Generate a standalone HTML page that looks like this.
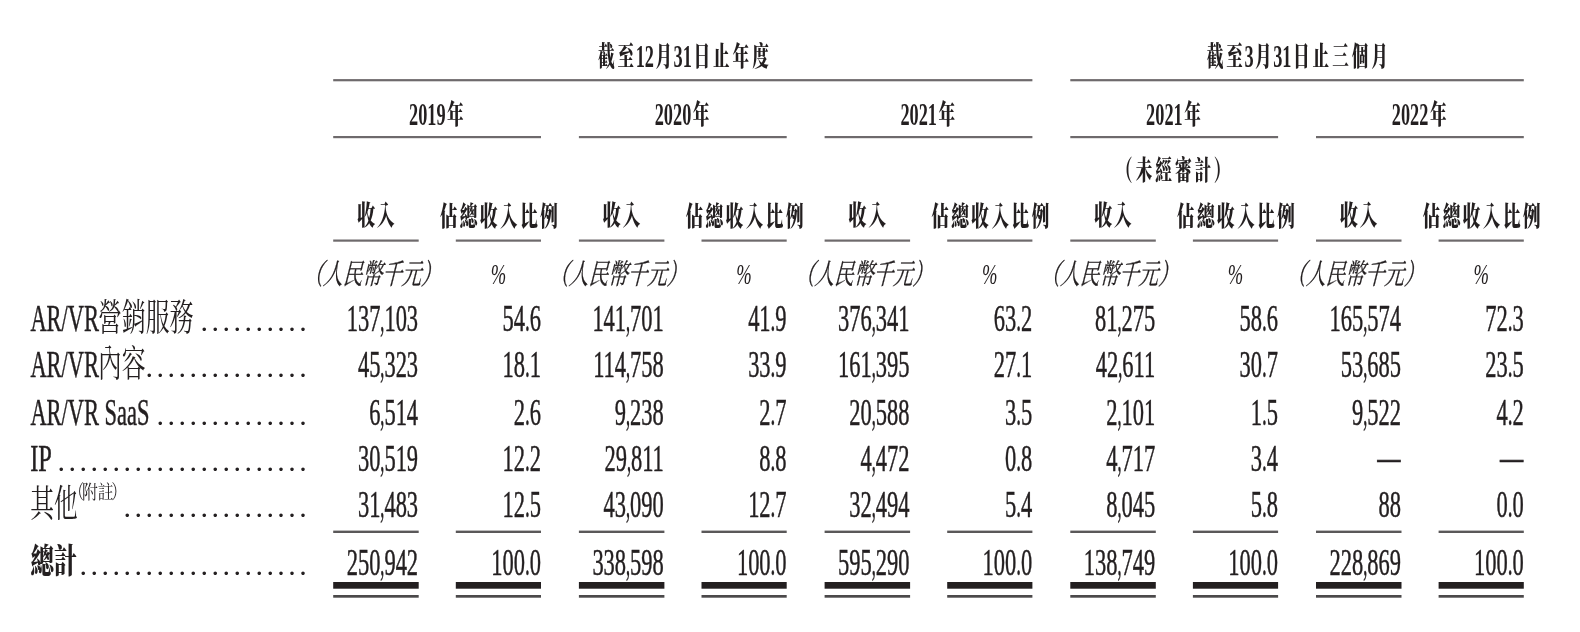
<!DOCTYPE html>
<html><head><meta charset="utf-8"><title>收入明細</title>
<style>html,body{margin:0;padding:0;background:#fff;}svg{display:block;filter:blur(0.55px)}.d text{stroke:#231f20;stroke-width:0.5px}.u text{stroke:#231f20;stroke-width:0.3px}</style></head>
<body><svg width="1580" height="632" viewBox="0 0 1580 632" fill="#231f20">
<rect x="0" y="0" width="1580" height="632" fill="#fff"/>
<text x="598.00" y="66.30" font-family='"Liberation Serif", "Noto Serif CJK TC", "Noto Serif CJK SC", serif' font-size="27.8" textLength="16.60" lengthAdjust="spacingAndGlyphs" font-weight="900">截</text><text x="617.60" y="66.30" font-family='"Liberation Serif", "Noto Serif CJK TC", "Noto Serif CJK SC", serif' font-size="27.8" textLength="16.60" lengthAdjust="spacingAndGlyphs" font-weight="900">至</text><text x="635.70" y="66.80" font-family='"Liberation Serif", serif' font-size="30.5" textLength="18.30" lengthAdjust="spacingAndGlyphs" font-weight="bold">12</text><text x="655.50" y="66.30" font-family='"Liberation Serif", "Noto Serif CJK TC", "Noto Serif CJK SC", serif' font-size="27.8" textLength="16.60" lengthAdjust="spacingAndGlyphs" font-weight="900">月</text><text x="673.60" y="66.80" font-family='"Liberation Serif", serif' font-size="30.5" textLength="18.30" lengthAdjust="spacingAndGlyphs" font-weight="bold">31</text><text x="693.40" y="66.30" font-family='"Liberation Serif", "Noto Serif CJK TC", "Noto Serif CJK SC", serif' font-size="27.8" textLength="16.60" lengthAdjust="spacingAndGlyphs" font-weight="900">日</text><text x="713.00" y="66.30" font-family='"Liberation Serif", "Noto Serif CJK TC", "Noto Serif CJK SC", serif' font-size="27.8" textLength="16.60" lengthAdjust="spacingAndGlyphs" font-weight="900">止</text><text x="732.60" y="66.30" font-family='"Liberation Serif", "Noto Serif CJK TC", "Noto Serif CJK SC", serif' font-size="27.8" textLength="16.60" lengthAdjust="spacingAndGlyphs" font-weight="900">年</text><text x="752.20" y="66.30" font-family='"Liberation Serif", "Noto Serif CJK TC", "Noto Serif CJK SC", serif' font-size="27.8" textLength="16.60" lengthAdjust="spacingAndGlyphs" font-weight="900">度</text>
<text x="1206.70" y="66.30" font-family='"Liberation Serif", "Noto Serif CJK TC", "Noto Serif CJK SC", serif' font-size="27.8" textLength="16.60" lengthAdjust="spacingAndGlyphs" font-weight="900">截</text><text x="1226.30" y="66.30" font-family='"Liberation Serif", "Noto Serif CJK TC", "Noto Serif CJK SC", serif' font-size="27.8" textLength="16.60" lengthAdjust="spacingAndGlyphs" font-weight="900">至</text><text x="1244.40" y="66.80" font-family='"Liberation Serif", serif' font-size="30.5" textLength="9.15" lengthAdjust="spacingAndGlyphs" font-weight="bold">3</text><text x="1255.05" y="66.30" font-family='"Liberation Serif", "Noto Serif CJK TC", "Noto Serif CJK SC", serif' font-size="27.8" textLength="16.60" lengthAdjust="spacingAndGlyphs" font-weight="900">月</text><text x="1273.15" y="66.80" font-family='"Liberation Serif", serif' font-size="30.5" textLength="18.30" lengthAdjust="spacingAndGlyphs" font-weight="bold">31</text><text x="1292.95" y="66.30" font-family='"Liberation Serif", "Noto Serif CJK TC", "Noto Serif CJK SC", serif' font-size="27.8" textLength="16.60" lengthAdjust="spacingAndGlyphs" font-weight="900">日</text><text x="1312.55" y="66.30" font-family='"Liberation Serif", "Noto Serif CJK TC", "Noto Serif CJK SC", serif' font-size="27.8" textLength="16.60" lengthAdjust="spacingAndGlyphs" font-weight="900">止</text><text x="1332.15" y="66.30" font-family='"Liberation Serif", "Noto Serif CJK TC", "Noto Serif CJK SC", serif' font-size="27.8" textLength="16.60" lengthAdjust="spacingAndGlyphs" font-weight="900">三</text><text x="1351.75" y="66.30" font-family='"Liberation Serif", "Noto Serif CJK TC", "Noto Serif CJK SC", serif' font-size="27.8" textLength="16.60" lengthAdjust="spacingAndGlyphs" font-weight="900">個</text><text x="1371.35" y="66.30" font-family='"Liberation Serif", "Noto Serif CJK TC", "Noto Serif CJK SC", serif' font-size="27.8" textLength="16.60" lengthAdjust="spacingAndGlyphs" font-weight="900">月</text>
<rect x="333.20" y="79.10" width="699.20" height="2.20" fill="#6e6a6c"/>
<rect x="1070.30" y="79.10" width="453.50" height="2.20" fill="#6e6a6c"/>
<text x="409.00" y="124.90" font-family='"Liberation Serif", serif' font-size="30.5" textLength="36.60" lengthAdjust="spacingAndGlyphs" font-weight="bold">2019</text><text x="447.10" y="124.40" font-family='"Liberation Serif", "Noto Serif CJK TC", "Noto Serif CJK SC", serif' font-size="27.8" textLength="16.60" lengthAdjust="spacingAndGlyphs" font-weight="900">年</text>
<rect x="333.20" y="136.00" width="207.80" height="2.20" fill="#6e6a6c"/>
<text x="654.70" y="124.90" font-family='"Liberation Serif", serif' font-size="30.5" textLength="36.60" lengthAdjust="spacingAndGlyphs" font-weight="bold">2020</text><text x="692.80" y="124.40" font-family='"Liberation Serif", "Noto Serif CJK TC", "Noto Serif CJK SC", serif' font-size="27.8" textLength="16.60" lengthAdjust="spacingAndGlyphs" font-weight="900">年</text>
<rect x="578.90" y="136.00" width="207.80" height="2.20" fill="#6e6a6c"/>
<text x="900.40" y="124.90" font-family='"Liberation Serif", serif' font-size="30.5" textLength="36.60" lengthAdjust="spacingAndGlyphs" font-weight="bold">2021</text><text x="938.50" y="124.40" font-family='"Liberation Serif", "Noto Serif CJK TC", "Noto Serif CJK SC", serif' font-size="27.8" textLength="16.60" lengthAdjust="spacingAndGlyphs" font-weight="900">年</text>
<rect x="824.60" y="136.00" width="207.80" height="2.20" fill="#6e6a6c"/>
<text x="1146.10" y="124.90" font-family='"Liberation Serif", serif' font-size="30.5" textLength="36.60" lengthAdjust="spacingAndGlyphs" font-weight="bold">2021</text><text x="1184.20" y="124.40" font-family='"Liberation Serif", "Noto Serif CJK TC", "Noto Serif CJK SC", serif' font-size="27.8" textLength="16.60" lengthAdjust="spacingAndGlyphs" font-weight="900">年</text>
<rect x="1070.30" y="136.00" width="207.80" height="2.20" fill="#6e6a6c"/>
<text x="1391.80" y="124.90" font-family='"Liberation Serif", serif' font-size="30.5" textLength="36.60" lengthAdjust="spacingAndGlyphs" font-weight="bold">2022</text><text x="1429.90" y="124.40" font-family='"Liberation Serif", "Noto Serif CJK TC", "Noto Serif CJK SC", serif' font-size="27.8" textLength="16.60" lengthAdjust="spacingAndGlyphs" font-weight="900">年</text>
<rect x="1316.00" y="136.00" width="207.80" height="2.20" fill="#6e6a6c"/>
<text x="1115.95" y="179.80" font-family='"Liberation Serif", "Noto Serif CJK TC", "Noto Serif CJK SC", serif' font-size="27.8" textLength="16.60" lengthAdjust="spacingAndGlyphs" font-weight="900">（</text><text x="1135.75" y="179.80" font-family='"Liberation Serif", "Noto Serif CJK TC", "Noto Serif CJK SC", serif' font-size="27.8" textLength="16.60" lengthAdjust="spacingAndGlyphs" font-weight="900">未</text><text x="1155.35" y="179.80" font-family='"Liberation Serif", "Noto Serif CJK TC", "Noto Serif CJK SC", serif' font-size="27.8" textLength="16.60" lengthAdjust="spacingAndGlyphs" font-weight="900">經</text><text x="1174.95" y="179.80" font-family='"Liberation Serif", "Noto Serif CJK TC", "Noto Serif CJK SC", serif' font-size="27.8" textLength="16.60" lengthAdjust="spacingAndGlyphs" font-weight="900">審</text><text x="1194.55" y="179.80" font-family='"Liberation Serif", "Noto Serif CJK TC", "Noto Serif CJK SC", serif' font-size="27.8" textLength="16.60" lengthAdjust="spacingAndGlyphs" font-weight="900">計</text><text x="1213.85" y="179.80" font-family='"Liberation Serif", "Noto Serif CJK TC", "Noto Serif CJK SC", serif' font-size="27.8" textLength="16.60" lengthAdjust="spacingAndGlyphs" font-weight="900">）</text>
<text x="357.15" y="225.00" font-family='"Liberation Serif", "Noto Serif CJK TC", "Noto Serif CJK SC", serif' font-size="27.8" textLength="18.00" lengthAdjust="spacingAndGlyphs" font-weight="900">收</text><text x="376.75" y="225.00" font-family='"Liberation Serif", "Noto Serif CJK TC", "Noto Serif CJK SC", serif' font-size="27.8" textLength="18.00" lengthAdjust="spacingAndGlyphs" font-weight="900">入</text>
<text x="439.75" y="225.80" font-family='"Liberation Serif", "Noto Serif CJK TC", "Noto Serif CJK SC", serif' font-size="27.8" textLength="17.60" lengthAdjust="spacingAndGlyphs" font-weight="900">佔</text><text x="459.85" y="225.80" font-family='"Liberation Serif", "Noto Serif CJK TC", "Noto Serif CJK SC", serif' font-size="27.8" textLength="17.60" lengthAdjust="spacingAndGlyphs" font-weight="900">總</text><text x="479.95" y="225.80" font-family='"Liberation Serif", "Noto Serif CJK TC", "Noto Serif CJK SC", serif' font-size="27.8" textLength="17.60" lengthAdjust="spacingAndGlyphs" font-weight="900">收</text><text x="500.05" y="225.80" font-family='"Liberation Serif", "Noto Serif CJK TC", "Noto Serif CJK SC", serif' font-size="27.8" textLength="17.60" lengthAdjust="spacingAndGlyphs" font-weight="900">入</text><text x="520.15" y="225.80" font-family='"Liberation Serif", "Noto Serif CJK TC", "Noto Serif CJK SC", serif' font-size="27.8" textLength="17.60" lengthAdjust="spacingAndGlyphs" font-weight="900">比</text><text x="540.25" y="225.80" font-family='"Liberation Serif", "Noto Serif CJK TC", "Noto Serif CJK SC", serif' font-size="27.8" textLength="17.60" lengthAdjust="spacingAndGlyphs" font-weight="900">例</text>
<rect x="333.20" y="239.50" width="85.50" height="2.20" fill="#6e6a6c"/>
<rect x="455.80" y="239.50" width="85.20" height="2.20" fill="#6e6a6c"/>
<g transform="translate(0 284.30) skewX(-14.036) translate(0 -284.30)"><g class="u"><text x="303.25" y="284.30" font-family='"Liberation Serif", "Noto Serif CJK TC", "Noto Serif CJK SC", serif' font-size="28.5" textLength="19.60" lengthAdjust="spacingAndGlyphs">（</text><text x="322.85" y="284.30" font-family='"Liberation Serif", "Noto Serif CJK TC", "Noto Serif CJK SC", serif' font-size="28.5" textLength="98.00" lengthAdjust="spacingAndGlyphs">人民幣千元</text><text x="420.85" y="284.30" font-family='"Liberation Serif", "Noto Serif CJK TC", "Noto Serif CJK SC", serif' font-size="28.5" textLength="19.60" lengthAdjust="spacingAndGlyphs">）</text></g></g>
<text x="490.65" y="284.00" font-family='"Liberation Serif", serif' font-size="30" textLength="15.49" lengthAdjust="spacingAndGlyphs" font-style="italic">%</text>
<text x="602.85" y="225.00" font-family='"Liberation Serif", "Noto Serif CJK TC", "Noto Serif CJK SC", serif' font-size="27.8" textLength="18.00" lengthAdjust="spacingAndGlyphs" font-weight="900">收</text><text x="622.45" y="225.00" font-family='"Liberation Serif", "Noto Serif CJK TC", "Noto Serif CJK SC", serif' font-size="27.8" textLength="18.00" lengthAdjust="spacingAndGlyphs" font-weight="900">入</text>
<text x="685.45" y="225.80" font-family='"Liberation Serif", "Noto Serif CJK TC", "Noto Serif CJK SC", serif' font-size="27.8" textLength="17.60" lengthAdjust="spacingAndGlyphs" font-weight="900">佔</text><text x="705.55" y="225.80" font-family='"Liberation Serif", "Noto Serif CJK TC", "Noto Serif CJK SC", serif' font-size="27.8" textLength="17.60" lengthAdjust="spacingAndGlyphs" font-weight="900">總</text><text x="725.65" y="225.80" font-family='"Liberation Serif", "Noto Serif CJK TC", "Noto Serif CJK SC", serif' font-size="27.8" textLength="17.60" lengthAdjust="spacingAndGlyphs" font-weight="900">收</text><text x="745.75" y="225.80" font-family='"Liberation Serif", "Noto Serif CJK TC", "Noto Serif CJK SC", serif' font-size="27.8" textLength="17.60" lengthAdjust="spacingAndGlyphs" font-weight="900">入</text><text x="765.85" y="225.80" font-family='"Liberation Serif", "Noto Serif CJK TC", "Noto Serif CJK SC", serif' font-size="27.8" textLength="17.60" lengthAdjust="spacingAndGlyphs" font-weight="900">比</text><text x="785.95" y="225.80" font-family='"Liberation Serif", "Noto Serif CJK TC", "Noto Serif CJK SC", serif' font-size="27.8" textLength="17.60" lengthAdjust="spacingAndGlyphs" font-weight="900">例</text>
<rect x="578.90" y="239.50" width="85.50" height="2.20" fill="#6e6a6c"/>
<rect x="701.50" y="239.50" width="85.20" height="2.20" fill="#6e6a6c"/>
<g transform="translate(0 284.30) skewX(-14.036) translate(0 -284.30)"><g class="u"><text x="548.95" y="284.30" font-family='"Liberation Serif", "Noto Serif CJK TC", "Noto Serif CJK SC", serif' font-size="28.5" textLength="19.60" lengthAdjust="spacingAndGlyphs">（</text><text x="568.55" y="284.30" font-family='"Liberation Serif", "Noto Serif CJK TC", "Noto Serif CJK SC", serif' font-size="28.5" textLength="98.00" lengthAdjust="spacingAndGlyphs">人民幣千元</text><text x="666.55" y="284.30" font-family='"Liberation Serif", "Noto Serif CJK TC", "Noto Serif CJK SC", serif' font-size="28.5" textLength="19.60" lengthAdjust="spacingAndGlyphs">）</text></g></g>
<text x="736.35" y="284.00" font-family='"Liberation Serif", serif' font-size="30" textLength="15.49" lengthAdjust="spacingAndGlyphs" font-style="italic">%</text>
<text x="848.55" y="225.00" font-family='"Liberation Serif", "Noto Serif CJK TC", "Noto Serif CJK SC", serif' font-size="27.8" textLength="18.00" lengthAdjust="spacingAndGlyphs" font-weight="900">收</text><text x="868.15" y="225.00" font-family='"Liberation Serif", "Noto Serif CJK TC", "Noto Serif CJK SC", serif' font-size="27.8" textLength="18.00" lengthAdjust="spacingAndGlyphs" font-weight="900">入</text>
<text x="931.15" y="225.80" font-family='"Liberation Serif", "Noto Serif CJK TC", "Noto Serif CJK SC", serif' font-size="27.8" textLength="17.60" lengthAdjust="spacingAndGlyphs" font-weight="900">佔</text><text x="951.25" y="225.80" font-family='"Liberation Serif", "Noto Serif CJK TC", "Noto Serif CJK SC", serif' font-size="27.8" textLength="17.60" lengthAdjust="spacingAndGlyphs" font-weight="900">總</text><text x="971.35" y="225.80" font-family='"Liberation Serif", "Noto Serif CJK TC", "Noto Serif CJK SC", serif' font-size="27.8" textLength="17.60" lengthAdjust="spacingAndGlyphs" font-weight="900">收</text><text x="991.45" y="225.80" font-family='"Liberation Serif", "Noto Serif CJK TC", "Noto Serif CJK SC", serif' font-size="27.8" textLength="17.60" lengthAdjust="spacingAndGlyphs" font-weight="900">入</text><text x="1011.55" y="225.80" font-family='"Liberation Serif", "Noto Serif CJK TC", "Noto Serif CJK SC", serif' font-size="27.8" textLength="17.60" lengthAdjust="spacingAndGlyphs" font-weight="900">比</text><text x="1031.65" y="225.80" font-family='"Liberation Serif", "Noto Serif CJK TC", "Noto Serif CJK SC", serif' font-size="27.8" textLength="17.60" lengthAdjust="spacingAndGlyphs" font-weight="900">例</text>
<rect x="824.60" y="239.50" width="85.50" height="2.20" fill="#6e6a6c"/>
<rect x="947.20" y="239.50" width="85.20" height="2.20" fill="#6e6a6c"/>
<g transform="translate(0 284.30) skewX(-14.036) translate(0 -284.30)"><g class="u"><text x="794.65" y="284.30" font-family='"Liberation Serif", "Noto Serif CJK TC", "Noto Serif CJK SC", serif' font-size="28.5" textLength="19.60" lengthAdjust="spacingAndGlyphs">（</text><text x="814.25" y="284.30" font-family='"Liberation Serif", "Noto Serif CJK TC", "Noto Serif CJK SC", serif' font-size="28.5" textLength="98.00" lengthAdjust="spacingAndGlyphs">人民幣千元</text><text x="912.25" y="284.30" font-family='"Liberation Serif", "Noto Serif CJK TC", "Noto Serif CJK SC", serif' font-size="28.5" textLength="19.60" lengthAdjust="spacingAndGlyphs">）</text></g></g>
<text x="982.05" y="284.00" font-family='"Liberation Serif", serif' font-size="30" textLength="15.49" lengthAdjust="spacingAndGlyphs" font-style="italic">%</text>
<text x="1094.25" y="225.00" font-family='"Liberation Serif", "Noto Serif CJK TC", "Noto Serif CJK SC", serif' font-size="27.8" textLength="18.00" lengthAdjust="spacingAndGlyphs" font-weight="900">收</text><text x="1113.85" y="225.00" font-family='"Liberation Serif", "Noto Serif CJK TC", "Noto Serif CJK SC", serif' font-size="27.8" textLength="18.00" lengthAdjust="spacingAndGlyphs" font-weight="900">入</text>
<text x="1176.85" y="225.80" font-family='"Liberation Serif", "Noto Serif CJK TC", "Noto Serif CJK SC", serif' font-size="27.8" textLength="17.60" lengthAdjust="spacingAndGlyphs" font-weight="900">佔</text><text x="1196.95" y="225.80" font-family='"Liberation Serif", "Noto Serif CJK TC", "Noto Serif CJK SC", serif' font-size="27.8" textLength="17.60" lengthAdjust="spacingAndGlyphs" font-weight="900">總</text><text x="1217.05" y="225.80" font-family='"Liberation Serif", "Noto Serif CJK TC", "Noto Serif CJK SC", serif' font-size="27.8" textLength="17.60" lengthAdjust="spacingAndGlyphs" font-weight="900">收</text><text x="1237.15" y="225.80" font-family='"Liberation Serif", "Noto Serif CJK TC", "Noto Serif CJK SC", serif' font-size="27.8" textLength="17.60" lengthAdjust="spacingAndGlyphs" font-weight="900">入</text><text x="1257.25" y="225.80" font-family='"Liberation Serif", "Noto Serif CJK TC", "Noto Serif CJK SC", serif' font-size="27.8" textLength="17.60" lengthAdjust="spacingAndGlyphs" font-weight="900">比</text><text x="1277.35" y="225.80" font-family='"Liberation Serif", "Noto Serif CJK TC", "Noto Serif CJK SC", serif' font-size="27.8" textLength="17.60" lengthAdjust="spacingAndGlyphs" font-weight="900">例</text>
<rect x="1070.30" y="239.50" width="85.50" height="2.20" fill="#6e6a6c"/>
<rect x="1192.90" y="239.50" width="85.20" height="2.20" fill="#6e6a6c"/>
<g transform="translate(0 284.30) skewX(-14.036) translate(0 -284.30)"><g class="u"><text x="1040.35" y="284.30" font-family='"Liberation Serif", "Noto Serif CJK TC", "Noto Serif CJK SC", serif' font-size="28.5" textLength="19.60" lengthAdjust="spacingAndGlyphs">（</text><text x="1059.95" y="284.30" font-family='"Liberation Serif", "Noto Serif CJK TC", "Noto Serif CJK SC", serif' font-size="28.5" textLength="98.00" lengthAdjust="spacingAndGlyphs">人民幣千元</text><text x="1157.95" y="284.30" font-family='"Liberation Serif", "Noto Serif CJK TC", "Noto Serif CJK SC", serif' font-size="28.5" textLength="19.60" lengthAdjust="spacingAndGlyphs">）</text></g></g>
<text x="1227.75" y="284.00" font-family='"Liberation Serif", serif' font-size="30" textLength="15.49" lengthAdjust="spacingAndGlyphs" font-style="italic">%</text>
<text x="1339.95" y="225.00" font-family='"Liberation Serif", "Noto Serif CJK TC", "Noto Serif CJK SC", serif' font-size="27.8" textLength="18.00" lengthAdjust="spacingAndGlyphs" font-weight="900">收</text><text x="1359.55" y="225.00" font-family='"Liberation Serif", "Noto Serif CJK TC", "Noto Serif CJK SC", serif' font-size="27.8" textLength="18.00" lengthAdjust="spacingAndGlyphs" font-weight="900">入</text>
<text x="1422.55" y="225.80" font-family='"Liberation Serif", "Noto Serif CJK TC", "Noto Serif CJK SC", serif' font-size="27.8" textLength="17.60" lengthAdjust="spacingAndGlyphs" font-weight="900">佔</text><text x="1442.65" y="225.80" font-family='"Liberation Serif", "Noto Serif CJK TC", "Noto Serif CJK SC", serif' font-size="27.8" textLength="17.60" lengthAdjust="spacingAndGlyphs" font-weight="900">總</text><text x="1462.75" y="225.80" font-family='"Liberation Serif", "Noto Serif CJK TC", "Noto Serif CJK SC", serif' font-size="27.8" textLength="17.60" lengthAdjust="spacingAndGlyphs" font-weight="900">收</text><text x="1482.85" y="225.80" font-family='"Liberation Serif", "Noto Serif CJK TC", "Noto Serif CJK SC", serif' font-size="27.8" textLength="17.60" lengthAdjust="spacingAndGlyphs" font-weight="900">入</text><text x="1502.95" y="225.80" font-family='"Liberation Serif", "Noto Serif CJK TC", "Noto Serif CJK SC", serif' font-size="27.8" textLength="17.60" lengthAdjust="spacingAndGlyphs" font-weight="900">比</text><text x="1523.05" y="225.80" font-family='"Liberation Serif", "Noto Serif CJK TC", "Noto Serif CJK SC", serif' font-size="27.8" textLength="17.60" lengthAdjust="spacingAndGlyphs" font-weight="900">例</text>
<rect x="1316.00" y="239.50" width="85.50" height="2.20" fill="#6e6a6c"/>
<rect x="1438.60" y="239.50" width="85.20" height="2.20" fill="#6e6a6c"/>
<g transform="translate(0 284.30) skewX(-14.036) translate(0 -284.30)"><g class="u"><text x="1286.05" y="284.30" font-family='"Liberation Serif", "Noto Serif CJK TC", "Noto Serif CJK SC", serif' font-size="28.5" textLength="19.60" lengthAdjust="spacingAndGlyphs">（</text><text x="1305.65" y="284.30" font-family='"Liberation Serif", "Noto Serif CJK TC", "Noto Serif CJK SC", serif' font-size="28.5" textLength="98.00" lengthAdjust="spacingAndGlyphs">人民幣千元</text><text x="1403.65" y="284.30" font-family='"Liberation Serif", "Noto Serif CJK TC", "Noto Serif CJK SC", serif' font-size="28.5" textLength="19.60" lengthAdjust="spacingAndGlyphs">）</text></g></g>
<text x="1473.45" y="284.00" font-family='"Liberation Serif", serif' font-size="30" textLength="15.49" lengthAdjust="spacingAndGlyphs" font-style="italic">%</text>
<g class="d"><text x="346.68" y="330.70" font-family='"Liberation Serif", serif' font-size="37" textLength="33.69" lengthAdjust="spacingAndGlyphs">137</text><text x="380.37" y="330.70" font-family='"Liberation Serif", serif' font-size="37" textLength="4.04" lengthAdjust="spacingAndGlyphs">,</text><text x="384.41" y="330.70" font-family='"Liberation Serif", serif' font-size="37" textLength="33.69" lengthAdjust="spacingAndGlyphs">103</text></g>
<g class="d"><text x="502.44" y="330.70" font-family='"Liberation Serif", serif' font-size="37" textLength="22.46" lengthAdjust="spacingAndGlyphs">54</text><text x="524.90" y="330.70" font-family='"Liberation Serif", serif' font-size="37" textLength="4.77" lengthAdjust="spacingAndGlyphs">.</text><text x="529.67" y="330.70" font-family='"Liberation Serif", serif' font-size="37" textLength="11.23" lengthAdjust="spacingAndGlyphs">6</text></g>
<g class="d"><text x="592.38" y="330.70" font-family='"Liberation Serif", serif' font-size="37" textLength="33.69" lengthAdjust="spacingAndGlyphs">141</text><text x="626.07" y="330.70" font-family='"Liberation Serif", serif' font-size="37" textLength="4.04" lengthAdjust="spacingAndGlyphs">,</text><text x="630.11" y="330.70" font-family='"Liberation Serif", serif' font-size="37" textLength="33.69" lengthAdjust="spacingAndGlyphs">701</text></g>
<g class="d"><text x="748.14" y="330.70" font-family='"Liberation Serif", serif' font-size="37" textLength="22.46" lengthAdjust="spacingAndGlyphs">41</text><text x="770.60" y="330.70" font-family='"Liberation Serif", serif' font-size="37" textLength="4.77" lengthAdjust="spacingAndGlyphs">.</text><text x="775.37" y="330.70" font-family='"Liberation Serif", serif' font-size="37" textLength="11.23" lengthAdjust="spacingAndGlyphs">9</text></g>
<g class="d"><text x="838.08" y="330.70" font-family='"Liberation Serif", serif' font-size="37" textLength="33.69" lengthAdjust="spacingAndGlyphs">376</text><text x="871.77" y="330.70" font-family='"Liberation Serif", serif' font-size="37" textLength="4.04" lengthAdjust="spacingAndGlyphs">,</text><text x="875.81" y="330.70" font-family='"Liberation Serif", serif' font-size="37" textLength="33.69" lengthAdjust="spacingAndGlyphs">341</text></g>
<g class="d"><text x="993.84" y="330.70" font-family='"Liberation Serif", serif' font-size="37" textLength="22.46" lengthAdjust="spacingAndGlyphs">63</text><text x="1016.30" y="330.70" font-family='"Liberation Serif", serif' font-size="37" textLength="4.77" lengthAdjust="spacingAndGlyphs">.</text><text x="1021.07" y="330.70" font-family='"Liberation Serif", serif' font-size="37" textLength="11.23" lengthAdjust="spacingAndGlyphs">2</text></g>
<g class="d"><text x="1095.01" y="330.70" font-family='"Liberation Serif", serif' font-size="37" textLength="22.46" lengthAdjust="spacingAndGlyphs">81</text><text x="1117.47" y="330.70" font-family='"Liberation Serif", serif' font-size="37" textLength="4.04" lengthAdjust="spacingAndGlyphs">,</text><text x="1121.51" y="330.70" font-family='"Liberation Serif", serif' font-size="37" textLength="33.69" lengthAdjust="spacingAndGlyphs">275</text></g>
<g class="d"><text x="1239.54" y="330.70" font-family='"Liberation Serif", serif' font-size="37" textLength="22.46" lengthAdjust="spacingAndGlyphs">58</text><text x="1262.00" y="330.70" font-family='"Liberation Serif", serif' font-size="37" textLength="4.77" lengthAdjust="spacingAndGlyphs">.</text><text x="1266.77" y="330.70" font-family='"Liberation Serif", serif' font-size="37" textLength="11.23" lengthAdjust="spacingAndGlyphs">6</text></g>
<g class="d"><text x="1329.48" y="330.70" font-family='"Liberation Serif", serif' font-size="37" textLength="33.69" lengthAdjust="spacingAndGlyphs">165</text><text x="1363.17" y="330.70" font-family='"Liberation Serif", serif' font-size="37" textLength="4.04" lengthAdjust="spacingAndGlyphs">,</text><text x="1367.21" y="330.70" font-family='"Liberation Serif", serif' font-size="37" textLength="33.69" lengthAdjust="spacingAndGlyphs">574</text></g>
<g class="d"><text x="1485.24" y="330.70" font-family='"Liberation Serif", serif' font-size="37" textLength="22.46" lengthAdjust="spacingAndGlyphs">72</text><text x="1507.70" y="330.70" font-family='"Liberation Serif", serif' font-size="37" textLength="4.77" lengthAdjust="spacingAndGlyphs">.</text><text x="1512.47" y="330.70" font-family='"Liberation Serif", serif' font-size="37" textLength="11.23" lengthAdjust="spacingAndGlyphs">3</text></g>
<g class="d"><text x="357.91" y="377.20" font-family='"Liberation Serif", serif' font-size="37" textLength="22.46" lengthAdjust="spacingAndGlyphs">45</text><text x="380.37" y="377.20" font-family='"Liberation Serif", serif' font-size="37" textLength="4.04" lengthAdjust="spacingAndGlyphs">,</text><text x="384.41" y="377.20" font-family='"Liberation Serif", serif' font-size="37" textLength="33.69" lengthAdjust="spacingAndGlyphs">323</text></g>
<g class="d"><text x="502.44" y="377.20" font-family='"Liberation Serif", serif' font-size="37" textLength="22.46" lengthAdjust="spacingAndGlyphs">18</text><text x="524.90" y="377.20" font-family='"Liberation Serif", serif' font-size="37" textLength="4.77" lengthAdjust="spacingAndGlyphs">.</text><text x="529.67" y="377.20" font-family='"Liberation Serif", serif' font-size="37" textLength="11.23" lengthAdjust="spacingAndGlyphs">1</text></g>
<g class="d"><text x="593.21" y="377.20" font-family='"Liberation Serif", serif' font-size="37" textLength="32.86" lengthAdjust="spacingAndGlyphs">114</text><text x="626.07" y="377.20" font-family='"Liberation Serif", serif' font-size="37" textLength="4.04" lengthAdjust="spacingAndGlyphs">,</text><text x="630.11" y="377.20" font-family='"Liberation Serif", serif' font-size="37" textLength="33.69" lengthAdjust="spacingAndGlyphs">758</text></g>
<g class="d"><text x="748.14" y="377.20" font-family='"Liberation Serif", serif' font-size="37" textLength="22.46" lengthAdjust="spacingAndGlyphs">33</text><text x="770.60" y="377.20" font-family='"Liberation Serif", serif' font-size="37" textLength="4.77" lengthAdjust="spacingAndGlyphs">.</text><text x="775.37" y="377.20" font-family='"Liberation Serif", serif' font-size="37" textLength="11.23" lengthAdjust="spacingAndGlyphs">9</text></g>
<g class="d"><text x="838.08" y="377.20" font-family='"Liberation Serif", serif' font-size="37" textLength="33.69" lengthAdjust="spacingAndGlyphs">161</text><text x="871.77" y="377.20" font-family='"Liberation Serif", serif' font-size="37" textLength="4.04" lengthAdjust="spacingAndGlyphs">,</text><text x="875.81" y="377.20" font-family='"Liberation Serif", serif' font-size="37" textLength="33.69" lengthAdjust="spacingAndGlyphs">395</text></g>
<g class="d"><text x="993.84" y="377.20" font-family='"Liberation Serif", serif' font-size="37" textLength="22.46" lengthAdjust="spacingAndGlyphs">27</text><text x="1016.30" y="377.20" font-family='"Liberation Serif", serif' font-size="37" textLength="4.77" lengthAdjust="spacingAndGlyphs">.</text><text x="1021.07" y="377.20" font-family='"Liberation Serif", serif' font-size="37" textLength="11.23" lengthAdjust="spacingAndGlyphs">1</text></g>
<g class="d"><text x="1095.84" y="377.20" font-family='"Liberation Serif", serif' font-size="37" textLength="22.46" lengthAdjust="spacingAndGlyphs">42</text><text x="1118.30" y="377.20" font-family='"Liberation Serif", serif' font-size="37" textLength="4.04" lengthAdjust="spacingAndGlyphs">,</text><text x="1122.34" y="377.20" font-family='"Liberation Serif", serif' font-size="37" textLength="32.86" lengthAdjust="spacingAndGlyphs">611</text></g>
<g class="d"><text x="1239.54" y="377.20" font-family='"Liberation Serif", serif' font-size="37" textLength="22.46" lengthAdjust="spacingAndGlyphs">30</text><text x="1262.00" y="377.20" font-family='"Liberation Serif", serif' font-size="37" textLength="4.77" lengthAdjust="spacingAndGlyphs">.</text><text x="1266.77" y="377.20" font-family='"Liberation Serif", serif' font-size="37" textLength="11.23" lengthAdjust="spacingAndGlyphs">7</text></g>
<g class="d"><text x="1340.71" y="377.20" font-family='"Liberation Serif", serif' font-size="37" textLength="22.46" lengthAdjust="spacingAndGlyphs">53</text><text x="1363.17" y="377.20" font-family='"Liberation Serif", serif' font-size="37" textLength="4.04" lengthAdjust="spacingAndGlyphs">,</text><text x="1367.21" y="377.20" font-family='"Liberation Serif", serif' font-size="37" textLength="33.69" lengthAdjust="spacingAndGlyphs">685</text></g>
<g class="d"><text x="1485.24" y="377.20" font-family='"Liberation Serif", serif' font-size="37" textLength="22.46" lengthAdjust="spacingAndGlyphs">23</text><text x="1507.70" y="377.20" font-family='"Liberation Serif", serif' font-size="37" textLength="4.77" lengthAdjust="spacingAndGlyphs">.</text><text x="1512.47" y="377.20" font-family='"Liberation Serif", serif' font-size="37" textLength="11.23" lengthAdjust="spacingAndGlyphs">5</text></g>
<g class="d"><text x="369.14" y="424.50" font-family='"Liberation Serif", serif' font-size="37" textLength="11.23" lengthAdjust="spacingAndGlyphs">6</text><text x="380.37" y="424.50" font-family='"Liberation Serif", serif' font-size="37" textLength="4.04" lengthAdjust="spacingAndGlyphs">,</text><text x="384.41" y="424.50" font-family='"Liberation Serif", serif' font-size="37" textLength="33.69" lengthAdjust="spacingAndGlyphs">514</text></g>
<g class="d"><text x="513.67" y="424.50" font-family='"Liberation Serif", serif' font-size="37" textLength="11.23" lengthAdjust="spacingAndGlyphs">2</text><text x="524.90" y="424.50" font-family='"Liberation Serif", serif' font-size="37" textLength="4.77" lengthAdjust="spacingAndGlyphs">.</text><text x="529.67" y="424.50" font-family='"Liberation Serif", serif' font-size="37" textLength="11.23" lengthAdjust="spacingAndGlyphs">6</text></g>
<g class="d"><text x="614.84" y="424.50" font-family='"Liberation Serif", serif' font-size="37" textLength="11.23" lengthAdjust="spacingAndGlyphs">9</text><text x="626.07" y="424.50" font-family='"Liberation Serif", serif' font-size="37" textLength="4.04" lengthAdjust="spacingAndGlyphs">,</text><text x="630.11" y="424.50" font-family='"Liberation Serif", serif' font-size="37" textLength="33.69" lengthAdjust="spacingAndGlyphs">238</text></g>
<g class="d"><text x="759.37" y="424.50" font-family='"Liberation Serif", serif' font-size="37" textLength="11.23" lengthAdjust="spacingAndGlyphs">2</text><text x="770.60" y="424.50" font-family='"Liberation Serif", serif' font-size="37" textLength="4.77" lengthAdjust="spacingAndGlyphs">.</text><text x="775.37" y="424.50" font-family='"Liberation Serif", serif' font-size="37" textLength="11.23" lengthAdjust="spacingAndGlyphs">7</text></g>
<g class="d"><text x="849.31" y="424.50" font-family='"Liberation Serif", serif' font-size="37" textLength="22.46" lengthAdjust="spacingAndGlyphs">20</text><text x="871.77" y="424.50" font-family='"Liberation Serif", serif' font-size="37" textLength="4.04" lengthAdjust="spacingAndGlyphs">,</text><text x="875.81" y="424.50" font-family='"Liberation Serif", serif' font-size="37" textLength="33.69" lengthAdjust="spacingAndGlyphs">588</text></g>
<g class="d"><text x="1005.07" y="424.50" font-family='"Liberation Serif", serif' font-size="37" textLength="11.23" lengthAdjust="spacingAndGlyphs">3</text><text x="1016.30" y="424.50" font-family='"Liberation Serif", serif' font-size="37" textLength="4.77" lengthAdjust="spacingAndGlyphs">.</text><text x="1021.07" y="424.50" font-family='"Liberation Serif", serif' font-size="37" textLength="11.23" lengthAdjust="spacingAndGlyphs">5</text></g>
<g class="d"><text x="1106.24" y="424.50" font-family='"Liberation Serif", serif' font-size="37" textLength="11.23" lengthAdjust="spacingAndGlyphs">2</text><text x="1117.47" y="424.50" font-family='"Liberation Serif", serif' font-size="37" textLength="4.04" lengthAdjust="spacingAndGlyphs">,</text><text x="1121.51" y="424.50" font-family='"Liberation Serif", serif' font-size="37" textLength="33.69" lengthAdjust="spacingAndGlyphs">101</text></g>
<g class="d"><text x="1250.77" y="424.50" font-family='"Liberation Serif", serif' font-size="37" textLength="11.23" lengthAdjust="spacingAndGlyphs">1</text><text x="1262.00" y="424.50" font-family='"Liberation Serif", serif' font-size="37" textLength="4.77" lengthAdjust="spacingAndGlyphs">.</text><text x="1266.77" y="424.50" font-family='"Liberation Serif", serif' font-size="37" textLength="11.23" lengthAdjust="spacingAndGlyphs">5</text></g>
<g class="d"><text x="1351.94" y="424.50" font-family='"Liberation Serif", serif' font-size="37" textLength="11.23" lengthAdjust="spacingAndGlyphs">9</text><text x="1363.17" y="424.50" font-family='"Liberation Serif", serif' font-size="37" textLength="4.04" lengthAdjust="spacingAndGlyphs">,</text><text x="1367.21" y="424.50" font-family='"Liberation Serif", serif' font-size="37" textLength="33.69" lengthAdjust="spacingAndGlyphs">522</text></g>
<g class="d"><text x="1496.47" y="424.50" font-family='"Liberation Serif", serif' font-size="37" textLength="11.23" lengthAdjust="spacingAndGlyphs">4</text><text x="1507.70" y="424.50" font-family='"Liberation Serif", serif' font-size="37" textLength="4.77" lengthAdjust="spacingAndGlyphs">.</text><text x="1512.47" y="424.50" font-family='"Liberation Serif", serif' font-size="37" textLength="11.23" lengthAdjust="spacingAndGlyphs">2</text></g>
<g class="d"><text x="357.91" y="471.00" font-family='"Liberation Serif", serif' font-size="37" textLength="22.46" lengthAdjust="spacingAndGlyphs">30</text><text x="380.37" y="471.00" font-family='"Liberation Serif", serif' font-size="37" textLength="4.04" lengthAdjust="spacingAndGlyphs">,</text><text x="384.41" y="471.00" font-family='"Liberation Serif", serif' font-size="37" textLength="33.69" lengthAdjust="spacingAndGlyphs">519</text></g>
<g class="d"><text x="502.44" y="471.00" font-family='"Liberation Serif", serif' font-size="37" textLength="22.46" lengthAdjust="spacingAndGlyphs">12</text><text x="524.90" y="471.00" font-family='"Liberation Serif", serif' font-size="37" textLength="4.77" lengthAdjust="spacingAndGlyphs">.</text><text x="529.67" y="471.00" font-family='"Liberation Serif", serif' font-size="37" textLength="11.23" lengthAdjust="spacingAndGlyphs">2</text></g>
<g class="d"><text x="604.44" y="471.00" font-family='"Liberation Serif", serif' font-size="37" textLength="22.46" lengthAdjust="spacingAndGlyphs">29</text><text x="626.90" y="471.00" font-family='"Liberation Serif", serif' font-size="37" textLength="4.04" lengthAdjust="spacingAndGlyphs">,</text><text x="630.94" y="471.00" font-family='"Liberation Serif", serif' font-size="37" textLength="32.86" lengthAdjust="spacingAndGlyphs">811</text></g>
<g class="d"><text x="759.37" y="471.00" font-family='"Liberation Serif", serif' font-size="37" textLength="11.23" lengthAdjust="spacingAndGlyphs">8</text><text x="770.60" y="471.00" font-family='"Liberation Serif", serif' font-size="37" textLength="4.77" lengthAdjust="spacingAndGlyphs">.</text><text x="775.37" y="471.00" font-family='"Liberation Serif", serif' font-size="37" textLength="11.23" lengthAdjust="spacingAndGlyphs">8</text></g>
<g class="d"><text x="860.54" y="471.00" font-family='"Liberation Serif", serif' font-size="37" textLength="11.23" lengthAdjust="spacingAndGlyphs">4</text><text x="871.77" y="471.00" font-family='"Liberation Serif", serif' font-size="37" textLength="4.04" lengthAdjust="spacingAndGlyphs">,</text><text x="875.81" y="471.00" font-family='"Liberation Serif", serif' font-size="37" textLength="33.69" lengthAdjust="spacingAndGlyphs">472</text></g>
<g class="d"><text x="1005.07" y="471.00" font-family='"Liberation Serif", serif' font-size="37" textLength="11.23" lengthAdjust="spacingAndGlyphs">0</text><text x="1016.30" y="471.00" font-family='"Liberation Serif", serif' font-size="37" textLength="4.77" lengthAdjust="spacingAndGlyphs">.</text><text x="1021.07" y="471.00" font-family='"Liberation Serif", serif' font-size="37" textLength="11.23" lengthAdjust="spacingAndGlyphs">8</text></g>
<g class="d"><text x="1106.24" y="471.00" font-family='"Liberation Serif", serif' font-size="37" textLength="11.23" lengthAdjust="spacingAndGlyphs">4</text><text x="1117.47" y="471.00" font-family='"Liberation Serif", serif' font-size="37" textLength="4.04" lengthAdjust="spacingAndGlyphs">,</text><text x="1121.51" y="471.00" font-family='"Liberation Serif", serif' font-size="37" textLength="33.69" lengthAdjust="spacingAndGlyphs">717</text></g>
<g class="d"><text x="1250.77" y="471.00" font-family='"Liberation Serif", serif' font-size="37" textLength="11.23" lengthAdjust="spacingAndGlyphs">3</text><text x="1262.00" y="471.00" font-family='"Liberation Serif", serif' font-size="37" textLength="4.77" lengthAdjust="spacingAndGlyphs">.</text><text x="1266.77" y="471.00" font-family='"Liberation Serif", serif' font-size="37" textLength="11.23" lengthAdjust="spacingAndGlyphs">4</text></g>
<g class="d"><text x="1377.29" y="469.70" font-family='"Liberation Serif", serif' font-size="37" textLength="23.31" lengthAdjust="spacingAndGlyphs">—</text></g>
<g class="d"><text x="1500.09" y="469.70" font-family='"Liberation Serif", serif' font-size="37" textLength="23.31" lengthAdjust="spacingAndGlyphs">—</text></g>
<g class="d"><text x="357.91" y="517.30" font-family='"Liberation Serif", serif' font-size="37" textLength="22.46" lengthAdjust="spacingAndGlyphs">31</text><text x="380.37" y="517.30" font-family='"Liberation Serif", serif' font-size="37" textLength="4.04" lengthAdjust="spacingAndGlyphs">,</text><text x="384.41" y="517.30" font-family='"Liberation Serif", serif' font-size="37" textLength="33.69" lengthAdjust="spacingAndGlyphs">483</text></g>
<g class="d"><text x="502.44" y="517.30" font-family='"Liberation Serif", serif' font-size="37" textLength="22.46" lengthAdjust="spacingAndGlyphs">12</text><text x="524.90" y="517.30" font-family='"Liberation Serif", serif' font-size="37" textLength="4.77" lengthAdjust="spacingAndGlyphs">.</text><text x="529.67" y="517.30" font-family='"Liberation Serif", serif' font-size="37" textLength="11.23" lengthAdjust="spacingAndGlyphs">5</text></g>
<g class="d"><text x="603.61" y="517.30" font-family='"Liberation Serif", serif' font-size="37" textLength="22.46" lengthAdjust="spacingAndGlyphs">43</text><text x="626.07" y="517.30" font-family='"Liberation Serif", serif' font-size="37" textLength="4.04" lengthAdjust="spacingAndGlyphs">,</text><text x="630.11" y="517.30" font-family='"Liberation Serif", serif' font-size="37" textLength="33.69" lengthAdjust="spacingAndGlyphs">090</text></g>
<g class="d"><text x="748.14" y="517.30" font-family='"Liberation Serif", serif' font-size="37" textLength="22.46" lengthAdjust="spacingAndGlyphs">12</text><text x="770.60" y="517.30" font-family='"Liberation Serif", serif' font-size="37" textLength="4.77" lengthAdjust="spacingAndGlyphs">.</text><text x="775.37" y="517.30" font-family='"Liberation Serif", serif' font-size="37" textLength="11.23" lengthAdjust="spacingAndGlyphs">7</text></g>
<g class="d"><text x="849.31" y="517.30" font-family='"Liberation Serif", serif' font-size="37" textLength="22.46" lengthAdjust="spacingAndGlyphs">32</text><text x="871.77" y="517.30" font-family='"Liberation Serif", serif' font-size="37" textLength="4.04" lengthAdjust="spacingAndGlyphs">,</text><text x="875.81" y="517.30" font-family='"Liberation Serif", serif' font-size="37" textLength="33.69" lengthAdjust="spacingAndGlyphs">494</text></g>
<g class="d"><text x="1005.07" y="517.30" font-family='"Liberation Serif", serif' font-size="37" textLength="11.23" lengthAdjust="spacingAndGlyphs">5</text><text x="1016.30" y="517.30" font-family='"Liberation Serif", serif' font-size="37" textLength="4.77" lengthAdjust="spacingAndGlyphs">.</text><text x="1021.07" y="517.30" font-family='"Liberation Serif", serif' font-size="37" textLength="11.23" lengthAdjust="spacingAndGlyphs">4</text></g>
<g class="d"><text x="1106.24" y="517.30" font-family='"Liberation Serif", serif' font-size="37" textLength="11.23" lengthAdjust="spacingAndGlyphs">8</text><text x="1117.47" y="517.30" font-family='"Liberation Serif", serif' font-size="37" textLength="4.04" lengthAdjust="spacingAndGlyphs">,</text><text x="1121.51" y="517.30" font-family='"Liberation Serif", serif' font-size="37" textLength="33.69" lengthAdjust="spacingAndGlyphs">045</text></g>
<g class="d"><text x="1250.77" y="517.30" font-family='"Liberation Serif", serif' font-size="37" textLength="11.23" lengthAdjust="spacingAndGlyphs">5</text><text x="1262.00" y="517.30" font-family='"Liberation Serif", serif' font-size="37" textLength="4.77" lengthAdjust="spacingAndGlyphs">.</text><text x="1266.77" y="517.30" font-family='"Liberation Serif", serif' font-size="37" textLength="11.23" lengthAdjust="spacingAndGlyphs">8</text></g>
<g class="d"><text x="1378.44" y="517.30" font-family='"Liberation Serif", serif' font-size="37" textLength="22.46" lengthAdjust="spacingAndGlyphs">88</text></g>
<g class="d"><text x="1496.47" y="517.30" font-family='"Liberation Serif", serif' font-size="37" textLength="11.23" lengthAdjust="spacingAndGlyphs">0</text><text x="1507.70" y="517.30" font-family='"Liberation Serif", serif' font-size="37" textLength="4.77" lengthAdjust="spacingAndGlyphs">.</text><text x="1512.47" y="517.30" font-family='"Liberation Serif", serif' font-size="37" textLength="11.23" lengthAdjust="spacingAndGlyphs">0</text></g>
<g class="d"><text x="346.68" y="574.60" font-family='"Liberation Serif", serif' font-size="37" textLength="33.69" lengthAdjust="spacingAndGlyphs">250</text><text x="380.37" y="574.60" font-family='"Liberation Serif", serif' font-size="37" textLength="4.04" lengthAdjust="spacingAndGlyphs">,</text><text x="384.41" y="574.60" font-family='"Liberation Serif", serif' font-size="37" textLength="33.69" lengthAdjust="spacingAndGlyphs">942</text></g>
<g class="d"><text x="491.21" y="574.60" font-family='"Liberation Serif", serif' font-size="37" textLength="33.69" lengthAdjust="spacingAndGlyphs">100</text><text x="524.90" y="574.60" font-family='"Liberation Serif", serif' font-size="37" textLength="4.77" lengthAdjust="spacingAndGlyphs">.</text><text x="529.67" y="574.60" font-family='"Liberation Serif", serif' font-size="37" textLength="11.23" lengthAdjust="spacingAndGlyphs">0</text></g>
<rect x="333.20" y="530.60" width="85.50" height="2.40" fill="#5a5859"/>
<rect x="455.80" y="530.60" width="85.20" height="2.40" fill="#5a5859"/>
<rect x="333.20" y="582.00" width="85.50" height="6.70" fill="#231f20"/>
<rect x="455.80" y="582.00" width="85.20" height="6.70" fill="#231f20"/>
<rect x="333.20" y="595.00" width="85.50" height="2.70" fill="#4b494a"/>
<rect x="455.80" y="595.00" width="85.20" height="2.70" fill="#4b494a"/>
<g class="d"><text x="592.38" y="574.60" font-family='"Liberation Serif", serif' font-size="37" textLength="33.69" lengthAdjust="spacingAndGlyphs">338</text><text x="626.07" y="574.60" font-family='"Liberation Serif", serif' font-size="37" textLength="4.04" lengthAdjust="spacingAndGlyphs">,</text><text x="630.11" y="574.60" font-family='"Liberation Serif", serif' font-size="37" textLength="33.69" lengthAdjust="spacingAndGlyphs">598</text></g>
<g class="d"><text x="736.91" y="574.60" font-family='"Liberation Serif", serif' font-size="37" textLength="33.69" lengthAdjust="spacingAndGlyphs">100</text><text x="770.60" y="574.60" font-family='"Liberation Serif", serif' font-size="37" textLength="4.77" lengthAdjust="spacingAndGlyphs">.</text><text x="775.37" y="574.60" font-family='"Liberation Serif", serif' font-size="37" textLength="11.23" lengthAdjust="spacingAndGlyphs">0</text></g>
<rect x="578.90" y="530.60" width="85.50" height="2.40" fill="#5a5859"/>
<rect x="701.50" y="530.60" width="85.20" height="2.40" fill="#5a5859"/>
<rect x="578.90" y="582.00" width="85.50" height="6.70" fill="#231f20"/>
<rect x="701.50" y="582.00" width="85.20" height="6.70" fill="#231f20"/>
<rect x="578.90" y="595.00" width="85.50" height="2.70" fill="#4b494a"/>
<rect x="701.50" y="595.00" width="85.20" height="2.70" fill="#4b494a"/>
<g class="d"><text x="838.08" y="574.60" font-family='"Liberation Serif", serif' font-size="37" textLength="33.69" lengthAdjust="spacingAndGlyphs">595</text><text x="871.77" y="574.60" font-family='"Liberation Serif", serif' font-size="37" textLength="4.04" lengthAdjust="spacingAndGlyphs">,</text><text x="875.81" y="574.60" font-family='"Liberation Serif", serif' font-size="37" textLength="33.69" lengthAdjust="spacingAndGlyphs">290</text></g>
<g class="d"><text x="982.61" y="574.60" font-family='"Liberation Serif", serif' font-size="37" textLength="33.69" lengthAdjust="spacingAndGlyphs">100</text><text x="1016.30" y="574.60" font-family='"Liberation Serif", serif' font-size="37" textLength="4.77" lengthAdjust="spacingAndGlyphs">.</text><text x="1021.07" y="574.60" font-family='"Liberation Serif", serif' font-size="37" textLength="11.23" lengthAdjust="spacingAndGlyphs">0</text></g>
<rect x="824.60" y="530.60" width="85.50" height="2.40" fill="#5a5859"/>
<rect x="947.20" y="530.60" width="85.20" height="2.40" fill="#5a5859"/>
<rect x="824.60" y="582.00" width="85.50" height="6.70" fill="#231f20"/>
<rect x="947.20" y="582.00" width="85.20" height="6.70" fill="#231f20"/>
<rect x="824.60" y="595.00" width="85.50" height="2.70" fill="#4b494a"/>
<rect x="947.20" y="595.00" width="85.20" height="2.70" fill="#4b494a"/>
<g class="d"><text x="1083.78" y="574.60" font-family='"Liberation Serif", serif' font-size="37" textLength="33.69" lengthAdjust="spacingAndGlyphs">138</text><text x="1117.47" y="574.60" font-family='"Liberation Serif", serif' font-size="37" textLength="4.04" lengthAdjust="spacingAndGlyphs">,</text><text x="1121.51" y="574.60" font-family='"Liberation Serif", serif' font-size="37" textLength="33.69" lengthAdjust="spacingAndGlyphs">749</text></g>
<g class="d"><text x="1228.31" y="574.60" font-family='"Liberation Serif", serif' font-size="37" textLength="33.69" lengthAdjust="spacingAndGlyphs">100</text><text x="1262.00" y="574.60" font-family='"Liberation Serif", serif' font-size="37" textLength="4.77" lengthAdjust="spacingAndGlyphs">.</text><text x="1266.77" y="574.60" font-family='"Liberation Serif", serif' font-size="37" textLength="11.23" lengthAdjust="spacingAndGlyphs">0</text></g>
<rect x="1070.30" y="530.60" width="85.50" height="2.40" fill="#5a5859"/>
<rect x="1192.90" y="530.60" width="85.20" height="2.40" fill="#5a5859"/>
<rect x="1070.30" y="582.00" width="85.50" height="6.70" fill="#231f20"/>
<rect x="1192.90" y="582.00" width="85.20" height="6.70" fill="#231f20"/>
<rect x="1070.30" y="595.00" width="85.50" height="2.70" fill="#4b494a"/>
<rect x="1192.90" y="595.00" width="85.20" height="2.70" fill="#4b494a"/>
<g class="d"><text x="1329.48" y="574.60" font-family='"Liberation Serif", serif' font-size="37" textLength="33.69" lengthAdjust="spacingAndGlyphs">228</text><text x="1363.17" y="574.60" font-family='"Liberation Serif", serif' font-size="37" textLength="4.04" lengthAdjust="spacingAndGlyphs">,</text><text x="1367.21" y="574.60" font-family='"Liberation Serif", serif' font-size="37" textLength="33.69" lengthAdjust="spacingAndGlyphs">869</text></g>
<g class="d"><text x="1474.01" y="574.60" font-family='"Liberation Serif", serif' font-size="37" textLength="33.69" lengthAdjust="spacingAndGlyphs">100</text><text x="1507.70" y="574.60" font-family='"Liberation Serif", serif' font-size="37" textLength="4.77" lengthAdjust="spacingAndGlyphs">.</text><text x="1512.47" y="574.60" font-family='"Liberation Serif", serif' font-size="37" textLength="11.23" lengthAdjust="spacingAndGlyphs">0</text></g>
<rect x="1316.00" y="530.60" width="85.50" height="2.40" fill="#5a5859"/>
<rect x="1438.60" y="530.60" width="85.20" height="2.40" fill="#5a5859"/>
<rect x="1316.00" y="582.00" width="85.50" height="6.70" fill="#231f20"/>
<rect x="1438.60" y="582.00" width="85.20" height="6.70" fill="#231f20"/>
<rect x="1316.00" y="595.00" width="85.50" height="2.70" fill="#4b494a"/>
<rect x="1438.60" y="595.00" width="85.20" height="2.70" fill="#4b494a"/>
<g class="d"><text x="30.40" y="330.70" font-family='"Liberation Serif", serif' font-size="37" textLength="68.64" lengthAdjust="spacingAndGlyphs">AR/VR</text></g>
<text x="98.04" y="330.70" font-family='"Liberation Serif", "Noto Serif CJK TC", "Noto Serif CJK SC", serif' font-size="37" textLength="95.20" lengthAdjust="spacingAndGlyphs">營銷服務</text>
<g class="d"><text x="30.40" y="377.20" font-family='"Liberation Serif", serif' font-size="37" textLength="68.64" lengthAdjust="spacingAndGlyphs">AR/VR</text></g>
<text x="98.04" y="377.20" font-family='"Liberation Serif", "Noto Serif CJK TC", "Noto Serif CJK SC", serif' font-size="37" textLength="47.60" lengthAdjust="spacingAndGlyphs">內容</text>
<g class="d"><text x="30.40" y="424.50" font-family='"Liberation Serif", serif' font-size="37" textLength="68.64" lengthAdjust="spacingAndGlyphs">AR/VR</text><text x="104.54" y="424.50" font-family='"Liberation Serif", serif' font-size="37" textLength="44.92" lengthAdjust="spacingAndGlyphs">SaaS</text></g>
<g class="d"><text x="30.20" y="471.00" font-family='"Liberation Serif", serif' font-size="37" textLength="21.71" lengthAdjust="spacingAndGlyphs">IP</text></g>
<text x="30.30" y="517.30" font-family='"Liberation Serif", "Noto Serif CJK TC", "Noto Serif CJK SC", serif' font-size="37" textLength="47.60" lengthAdjust="spacingAndGlyphs">其他</text>
<text x="70.00" y="498.80" font-family='"Liberation Serif", "Noto Serif CJK TC", "Noto Serif CJK SC", serif' font-size="19.5" textLength="14.00" lengthAdjust="spacingAndGlyphs">（</text><text x="82.00" y="498.80" font-family='"Liberation Serif", "Noto Serif CJK TC", "Noto Serif CJK SC", serif' font-size="19.5" textLength="31.60" lengthAdjust="spacingAndGlyphs">附註</text><text x="111.60" y="498.80" font-family='"Liberation Serif", "Noto Serif CJK TC", "Noto Serif CJK SC", serif' font-size="19.5" textLength="14.00" lengthAdjust="spacingAndGlyphs">）</text>
<text x="30.60" y="573.10" font-family='"Liberation Serif", "Noto Serif CJK TC", "Noto Serif CJK SC", serif' font-size="34.5" textLength="46.40" lengthAdjust="spacingAndGlyphs" font-weight="900">總計</text>
<text x="200.44" y="330.70" font-family='"Liberation Serif", serif' font-size="30" textLength="106.41" lengthAdjust="spacing">..........</text>
<text x="145.49" y="377.20" font-family='"Liberation Serif", serif' font-size="30" textLength="161.36" lengthAdjust="spacing">...............</text>
<text x="156.48" y="424.50" font-family='"Liberation Serif", serif' font-size="30" textLength="150.37" lengthAdjust="spacing">..............</text>
<text x="57.57" y="471.00" font-family='"Liberation Serif", serif' font-size="30" textLength="249.28" lengthAdjust="spacing">.......................</text>
<text x="123.51" y="517.30" font-family='"Liberation Serif", serif' font-size="30" textLength="183.34" lengthAdjust="spacing">.................</text>
<text x="79.55" y="574.60" font-family='"Liberation Serif", serif' font-size="30" textLength="227.30" lengthAdjust="spacing">.....................</text>
</svg></body></html>
